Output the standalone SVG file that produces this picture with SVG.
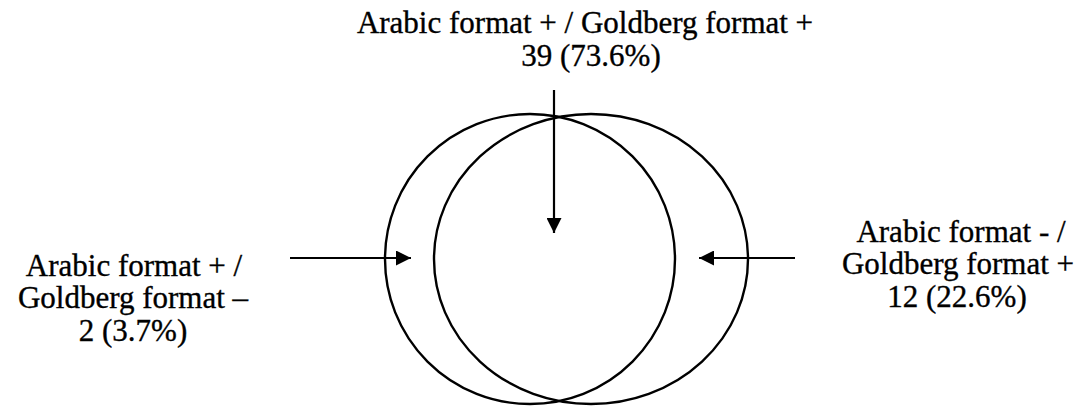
<svg xmlns="http://www.w3.org/2000/svg" width="1086" height="407" viewBox="0 0 1086 407">
<style>
.t{font-family:"Liberation Serif","Times New Roman",serif;font-size:31px;fill:#000;stroke:#000;stroke-width:0.35;text-anchor:middle}
.c{fill:none;stroke:#000;stroke-width:2.4}
.a{stroke:#000;stroke-width:2.2;fill:none}
</style>
<defs>
<marker id="ah" viewBox="0 0 10 10" refX="10" refY="5" markerWidth="16" markerHeight="15" markerUnits="userSpaceOnUse" orient="auto">
<path d="M0,0 L10,5 L0,10 Z" fill="#000"/>
</marker>
</defs>
<rect width="1086" height="407" fill="#fff"/>
<g id="circle-arabic"><ellipse class="c" cx="530" cy="259" rx="145" ry="145"/></g>
<g id="circle-goldberg"><ellipse class="c" cx="591" cy="259" rx="157" ry="145"/></g>
<g id="label-both">
<text class="t" x="585" y="33">Arabic format + / Goldberg format +</text>
<text class="t" x="591" y="66">39 (73.6%)</text>
</g>
<g id="label-arabic-only">
<text class="t" x="134" y="276">Arabic format + /</text>
<text class="t" x="133" y="308">Goldberg format –</text>
<text class="t" x="133" y="341">2 (3.7%)</text>
</g>
<g id="label-goldberg-only">
<text class="t" x="961" y="242">Arabic format - /</text>
<text class="t" x="958" y="274">Goldberg format +</text>
<text class="t" x="957" y="307">12 (22.6%)</text>
</g>
<g id="connectors">
<line class="a" x1="554" y1="90" x2="554" y2="233" marker-end="url(#ah)"/>
<line class="a" x1="290" y1="258" x2="411" y2="258" marker-end="url(#ah)"/>
<line class="a" x1="795" y1="258" x2="699" y2="258" marker-end="url(#ah)"/>
</g>
</svg>
